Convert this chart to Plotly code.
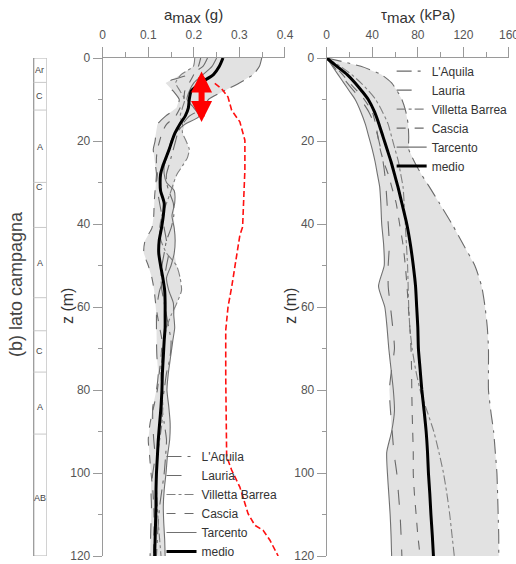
import numpy as np
import plotly.graph_objects as go

FONT = "Liberation Sans, Arial, sans-serif"

# ---------------- data: a_max (g) profiles ----------------
z_a = [0, 2, 4, 6, 8, 10, 12, 14, 16, 18, 20, 22, 24, 26, 28, 30, 32, 35, 38, 41, 44, 47,
       50, 53, 56, 59, 62, 65, 68, 72, 76, 80, 84, 88, 92, 96, 100, 104, 108, 112, 116, 120]
a_laquila = [0.349, 0.344, 0.33, 0.30, 0.265, 0.232, 0.222, 0.19, 0.175, 0.165, 0.16, 0.155, 0.15, 0.145,
             0.14, 0.14, 0.145, 0.155, 0.156, 0.15, 0.14, 0.135, 0.13, 0.128, 0.13, 0.135, 0.14, 0.145,
             0.15, 0.148, 0.14, 0.135, 0.13, 0.135, 0.14, 0.138, 0.135, 0.13, 0.125, 0.122, 0.12, 0.118]
a_lauria = [0.23, 0.22, 0.19, 0.138, 0.155, 0.168, 0.162, 0.138, 0.12, 0.117, 0.115, 0.111, 0.113, 0.116,
            0.118, 0.117, 0.12, 0.125, 0.13, 0.135, 0.14, 0.145, 0.14, 0.135, 0.125, 0.12, 0.118, 0.118,
            0.118, 0.119, 0.122, 0.118, 0.11, 0.11, 0.112, 0.115, 0.11, 0.106, 0.107, 0.106, 0.105, 0.104]
a_villetta = [0.202, 0.199, 0.172, 0.16, 0.17, 0.18, 0.175, 0.17, 0.175, 0.175, 0.183, 0.19, 0.186, 0.175,
              0.163, 0.156, 0.15, 0.14, 0.13, 0.125, 0.128, 0.14, 0.162, 0.17, 0.173, 0.163, 0.15, 0.14,
              0.135, 0.13, 0.128, 0.13, 0.132, 0.13, 0.125, 0.12, 0.118, 0.118, 0.12, 0.122, 0.125, 0.128]
a_cascia = [0.215, 0.21, 0.2, 0.19, 0.18, 0.178, 0.17, 0.16, 0.14, 0.13, 0.125, 0.12, 0.118, 0.118, 0.12,
            0.118, 0.115, 0.113, 0.112, 0.108, 0.093, 0.09, 0.1, 0.108, 0.113, 0.116, 0.12, 0.125, 0.13,
            0.128, 0.124, 0.12, 0.112, 0.104, 0.1, 0.103, 0.106, 0.11, 0.112, 0.113, 0.112, 0.112]
a_tarcento = [0.25, 0.24, 0.22, 0.2, 0.19, 0.185, 0.2, 0.212, 0.18, 0.16, 0.15, 0.145, 0.14, 0.135, 0.135,
              0.14, 0.157, 0.158, 0.152, 0.157, 0.159, 0.157, 0.15, 0.14, 0.145, 0.155, 0.156, 0.158,
              0.154, 0.149, 0.144, 0.141, 0.145, 0.148, 0.147, 0.142, 0.139, 0.135, 0.133, 0.134, 0.136, 0.137]
a_medio = [0.264, 0.256, 0.243, 0.215, 0.194, 0.19, 0.188, 0.181, 0.169, 0.159, 0.152, 0.146, 0.139, 0.132,
           0.127, 0.126, 0.127, 0.135, 0.133, 0.129, 0.124, 0.123, 0.127, 0.132, 0.136, 0.137, 0.137, 0.137,
           0.135, 0.133, 0.131, 0.13, 0.128, 0.125, 0.122, 0.12, 0.118, 0.117, 0.117, 0.116, 0.115, 0.114]

# red dashed reference profile
red_a = [0.246, 0.261, 0.275, 0.283, 0.301, 0.312, 0.312, 0.310, 0.307, 0.301, 0.294, 0.283, 0.275,
         0.270, 0.270, 0.271, 0.272, 0.283, 0.301, 0.319, 0.334, 0.352, 0.367, 0.385]
red_z = [6.1, 7.4, 9.4, 12.6, 15.4, 19.8, 27, 34, 40.7, 42.7, 48, 55.2, 60, 65.6, 76.9, 86, 96, 99.3,
         103.4, 109.8, 112.6, 113.8, 116.2, 120]

# red double arrow (a_max, z_top, z_bottom)
arrow_a = 0.217
arrow_z_top = 2.9
arrow_z_bottom = 15.4

# ---------------- data: tau_max (kPa) profiles ----------------
z_t = [0, 2, 4, 6, 8, 10, 13, 16, 19, 22, 25, 28, 31, 35, 40, 45, 50, 55, 60, 65, 70, 75, 80, 85, 90,
       95, 100, 105, 110, 115, 120]
t_laquila = [0, 30, 48, 57, 62, 66, 69.5, 71.5, 72, 72, 77, 83, 90, 99, 110, 120, 130, 136, 139, 141,
             142, 142, 142, 144, 146.5, 148, 149.4, 150, 150.5, 151, 151]
t_lauria = [0, 6, 12, 18, 24, 30, 37, 42, 45, 47.5, 49.5, 51, 52, 53, 54, 55, 54, 54, 56, 58, 59.5, 57,
            55, 56, 57.5, 59, 61.5, 63, 64.4, 65.3, 66]
t_villetta = [0, 12, 22, 30, 37, 43, 49, 54, 57, 60, 63, 65, 67, 68, 69, 70, 71, 71.5, 72, 73, 75, 78,
              82, 88, 94, 98.5, 102.5, 105.5, 108, 110, 112]
t_cascia = [0, 7, 14, 20, 27, 33, 40, 43, 45, 47, 50, 54, 57, 61, 64, 67, 69, 70.5, 71.7, 73, 74, 74.5,
            74.7, 75, 75.5, 76, 76, 77, 78.5, 80, 82]
t_tarcento = [0, 5, 10, 15, 20, 25, 30, 34, 37, 40, 42.5, 44.5, 46.5, 47.5, 48.3, 50, 50.5, 45.5, 51,
              53, 54.5, 56.5, 58.5, 59.5, 57, 52.7, 53.3, 54.5, 55.7, 56.5, 57]
t_medio = [0, 9, 18, 25, 31, 36.5, 42, 46, 49.5, 53, 56.5, 59.5, 62.5, 66, 70.3, 73.5, 76, 78, 79, 80,
           80.5, 82, 83.5, 85.5, 87.3, 88.5, 89.3, 90.5, 91.5, 92.7, 93.7]

# ---------------- soil column ----------------
layer_bounds = [0, 5.9, 12.6, 30.1, 41, 58, 66, 76, 91, 120.5]
layer_labels = ["Ar", "C", "A", "C", "A", "C", "A", "AB"]
layer_label_z = [3.0, 9.3, 21.5, 31.3, 49.5, 71.0, 84.4, 106.5]

series_names = ["L'Aquila", "Lauria", "Villetta Barrea", "Cascia", "Tarcento"]
series_dash = ["longdashdot", "longdash", "dashdot", "dash", "solid"]
series_color = ["#6a6a6a", "#6a6a6a", "#808080", "#6a6a6a", "#707070"]

W, H = 516, 564
Y_DOM = [8 / H, 1 - 58 / H]

fig = go.Figure()


def add_panel(z, series, medio, xa, ya, legend):
    arr = np.array(series)
    lo = arr.min(axis=0)
    hi = arr.max(axis=0)
    fig.add_trace(go.Scatter(x=lo, y=z, mode="lines", line=dict(width=0, color="#e2e2e2"),
                             showlegend=False, hoverinfo="skip", xaxis=xa, yaxis=ya))
    fig.add_trace(go.Scatter(x=hi, y=z, mode="lines", line=dict(width=0, color="#e2e2e2"),
                             fill="tonextx", fillcolor="#e2e2e2",
                             showlegend=False, hoverinfo="skip", xaxis=xa, yaxis=ya))
    for name, vals, dash, col in zip(series_names, series, series_dash, series_color):
        fig.add_trace(go.Scatter(x=vals, y=z, mode="lines", name=name,
                                 line=dict(color=col, width=1.1, dash=dash, shape="spline", smoothing=0.6),
                                 xaxis=xa, yaxis=ya, legend=legend))
    fig.add_trace(go.Scatter(x=medio, y=z, mode="lines", name="medio",
                             line=dict(color="black", width=3, shape="spline", smoothing=0.6),
                             xaxis=xa, yaxis=ya, legend=legend))


add_panel(z_a, [a_laquila, a_lauria, a_villetta, a_cascia, a_tarcento], a_medio, "x", "y", "legend")
fig.add_trace(go.Scatter(x=red_a, y=red_z, mode="lines", showlegend=False,
                         line=dict(color="#ff1010", width=1.6, dash="6px,3px"), xaxis="x", yaxis="y"))
add_panel(z_t, [t_laquila, t_lauria, t_villetta, t_cascia, t_tarcento], t_medio, "x2", "y2", "legend2")

axis_common = dict(showgrid=False, zeroline=False, showline=True, linecolor="#9a9a9a", linewidth=1,
                   ticks="outside", tickcolor="#9a9a9a", automargin=False, ticklabeloverflow="allow",
                   tickfont=dict(family=FONT, size=12, color="#555555"))

fig.update_layout(
    width=W, height=H,
    margin=dict(l=0, r=0, t=0, b=0, pad=0, autoexpand=False),
    paper_bgcolor="white", plot_bgcolor="white",
    font=dict(family=FONT, color="#333333"),
    xaxis=dict(domain=[0.199, 0.5523], range=[0, 0.4], side="top", dtick=0.1, ticklen=10,
               ticklabelstandoff=3,
               minor=dict(dtick=0.05, ticklen=5, ticks="outside", tickcolor="#9a9a9a"),
               anchor="y", **axis_common),
    yaxis=dict(domain=Y_DOM, range=[120, 0], dtick=20, ticklen=9,
               minor=dict(dtick=10, ticklen=4, ticks="outside", tickcolor="#9a9a9a"),
               anchor="x", **axis_common),
    xaxis2=dict(domain=[0.6331, 0.9864], range=[0, 160], side="top", dtick=40, ticklen=10,
                ticklabelstandoff=3,
                minor=dict(dtick=20, ticklen=5, ticks="outside", tickcolor="#9a9a9a"),
                anchor="y2", **axis_common),
    yaxis2=dict(domain=Y_DOM, range=[120, 0], dtick=20, ticklen=9,
                minor=dict(dtick=10, ticklen=4, ticks="outside", tickcolor="#9a9a9a"),
                anchor="x2", **axis_common),
    xaxis3=dict(domain=[0.0645, 0.0905], range=[0, 1], visible=False, anchor="y3", automargin=False),
    yaxis3=dict(domain=Y_DOM, range=[120.5, 0], visible=False, anchor="x3", automargin=False),
    legend=dict(x=0.313, y=1 - 442 / H, xanchor="left", yanchor="top", bgcolor="rgba(0,0,0,0)",
                traceorder="normal",
                font=dict(family=FONT, size=12, color="#333333")),
    legend2=dict(x=0.759, y=1 - 56.6 / H, xanchor="left", yanchor="top", bgcolor="rgba(0,0,0,0)",
                 traceorder="normal",
                 font=dict(family=FONT, size=12, color="#333333")),
    showlegend=True,
)

# soil column
fig.add_shape(type="rect", xref="x3", yref="y3", x0=0, x1=1, y0=layer_bounds[0], y1=layer_bounds[-1],
              line=dict(color="#b0b0b0", width=1), fillcolor="white", layer="below")
fig.add_shape(type="line", xref="x3", yref="y3", x0=0, x1=0, y0=layer_bounds[0], y1=layer_bounds[-1],
              line=dict(color="#8a8a8a", width=2))
for zb in layer_bounds[1:-1]:
    fig.add_shape(type="line", xref="x3", yref="y3", x0=0, x1=1, y0=zb, y1=zb,
                  line=dict(color="#c8c8c8", width=1))
for lab, zl in zip(layer_labels, layer_label_z):
    fig.add_annotation(xref="x3", yref="y3", x=0.5, y=zl, text=lab, showarrow=False,
                       xanchor="center", yanchor="middle",
                       font=dict(family=FONT, size=9, color="#444444"))

# red double arrow
fig.add_annotation(xref="x", yref="y", axref="x", ayref="y", x=arrow_a, y=arrow_z_bottom,
                   ax=arrow_a, ay=arrow_z_top, text="", showarrow=True,
                   arrowhead=2, startarrowhead=2, arrowside="end+start",
                   arrowwidth=6, arrowsize=0.7, startarrowsize=0.7, arrowcolor="#ff0000")

# titles
title_kw = dict(xref="paper", yref="paper", showarrow=False, xanchor="center", yanchor="middle")
fig.add_annotation(x=193.8 / W, y=1 - 16 / H,
                   text='a<sub><span style="font-size:15px">max</span></sub> (g)',
                   font=dict(family=FONT, size=15, color="#333333"), **title_kw)
fig.add_annotation(x=418 / W, y=1 - 16 / H,
                   text='τ<sub><span style="font-size:15px">max</span></sub> (kPa)',
                   font=dict(family=FONT, size=15, color="#333333"), **title_kw)
fig.add_annotation(x=67 / W, y=1 - 306 / H, text="z (m)", textangle=-90,
                   font=dict(family=FONT, size=16, color="#333333"), **title_kw)
fig.add_annotation(x=290 / W, y=1 - 306 / H, text="z (m)", textangle=-90,
                   font=dict(family=FONT, size=16, color="#333333"), **title_kw)
fig.add_annotation(x=16 / W, y=1 - 284 / H, text="(b) lato campagna", textangle=-90,
                   font=dict(family=FONT, size=18, color="#444444"), **title_kw)

fig.write_html("out.html")
